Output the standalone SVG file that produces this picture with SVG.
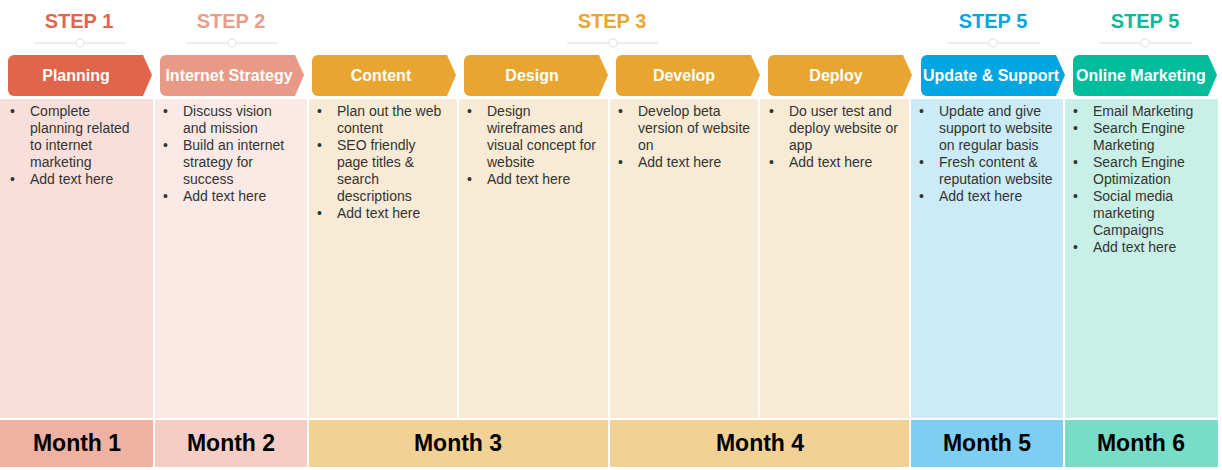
<svg xmlns="http://www.w3.org/2000/svg" width="1222" height="470" viewBox="0 0 1222 470">
<style>
.step{font:bold 20px "Liberation Sans",Arial,sans-serif;text-anchor:middle}
.tab{font:bold 16px "Liberation Sans",Arial,sans-serif;fill:#fff;text-anchor:middle}
.b{font:14px "Liberation Sans",Arial,sans-serif;fill:#333}
.m{font:bold 23px "Liberation Sans",Arial,sans-serif;fill:#000;text-anchor:middle}
.ln{stroke:#e8e8e8;stroke-width:1.5;fill:none}
.dot{fill:#fff;stroke:#e8e8e8;stroke-width:1.5}
</style>
<rect width="1222" height="470" fill="#fff"/>
<g id="steps">
<text class="step" x="79" y="28" fill="#E0654A">STEP 1</text>
<text class="step" x="231" y="28" fill="#EA9C88">STEP 2</text>
<text class="step" x="612" y="28" fill="#E8A631">STEP 3</text>
<text class="step" x="993" y="28" fill="#0AA5E0">STEP 5</text>
<text class="step" x="1145" y="28" fill="#10B894">STEP 5</text>
<path class="ln" d="M34 43H126M186 43H278M567 43H659M948 43H1040M1100 43H1192"/>
<circle class="dot" cx="80" cy="43" r="4"/><circle class="dot" cx="232" cy="43" r="4"/><circle class="dot" cx="613" cy="43" r="4"/><circle class="dot" cx="993" cy="43" r="4"/><circle class="dot" cx="1145" cy="43" r="4"/>
</g>
<g id="col-planning">
<rect x="0" y="99" width="153" height="319" fill="#F9DFD9"/>
<path d="M14 55H143L152 75L143 96H14A6 6 0 0 1 8 90V61A6 6 0 0 1 14 55Z" fill="#E0654A"/>
<text class="tab" x="76" y="81">Planning</text>
<text class="b"><tspan x="10" y="116">•</tspan><tspan x="30" y="116">Complete</tspan><tspan x="30" y="133">planning related</tspan><tspan x="30" y="150">to internet</tspan><tspan x="30" y="167">marketing</tspan><tspan x="10" y="184">•</tspan><tspan x="30" y="184">Add text here</tspan></text>
</g>
<g id="col-strategy">
<rect x="155" y="99" width="152" height="319" fill="#FBE9E5"/>
<path d="M166 55H295L304 75L295 96H166A6 6 0 0 1 160 90V61A6 6 0 0 1 166 55Z" fill="#E89A87"/>
<text class="tab" x="229" y="81">Internet Strategy</text>
<text class="b"><tspan x="163" y="116">•</tspan><tspan x="183" y="116">Discuss vision</tspan><tspan x="183" y="133">and mission</tspan><tspan x="163" y="150">•</tspan><tspan x="183" y="150">Build an internet</tspan><tspan x="183" y="167">strategy for</tspan><tspan x="183" y="184">success</tspan><tspan x="163" y="201">•</tspan><tspan x="183" y="201">Add text here</tspan></text>
</g>
<g id="col-content">
<rect x="309" y="99" width="148" height="319" fill="#F8EBD5"/>
<path d="M318 55H447L456 75L447 96H318A6 6 0 0 1 312 90V61A6 6 0 0 1 318 55Z" fill="#E8A631"/>
<text class="tab" x="381" y="81">Content</text>
<text class="b"><tspan x="317" y="116">•</tspan><tspan x="337" y="116">Plan out the web</tspan><tspan x="337" y="133">content</tspan><tspan x="317" y="150">•</tspan><tspan x="337" y="150">SEO friendly</tspan><tspan x="337" y="167">page titles &amp;</tspan><tspan x="337" y="184">search</tspan><tspan x="337" y="201">descriptions</tspan><tspan x="317" y="218">•</tspan><tspan x="337" y="218">Add text here</tspan></text>
</g>
<g id="col-design">
<rect x="459" y="99" width="149" height="319" fill="#F8EBD5"/>
<path d="M470 55H599L608 75L599 96H470A6 6 0 0 1 464 90V61A6 6 0 0 1 470 55Z" fill="#E8A631"/>
<text class="tab" x="532" y="81">Design</text>
<text class="b"><tspan x="467" y="116">•</tspan><tspan x="487" y="116">Design</tspan><tspan x="487" y="133">wireframes and</tspan><tspan x="487" y="150">visual concept for</tspan><tspan x="487" y="167">website</tspan><tspan x="467" y="184">•</tspan><tspan x="487" y="184">Add text here</tspan></text>
</g>
<g id="col-develop">
<rect x="610" y="99" width="148" height="319" fill="#F8EBD5"/>
<path d="M622 55H751L760 75L751 96H622A6 6 0 0 1 616 90V61A6 6 0 0 1 622 55Z" fill="#E8A631"/>
<text class="tab" x="684" y="81">Develop</text>
<text class="b"><tspan x="618" y="116">•</tspan><tspan x="638" y="116">Develop beta</tspan><tspan x="638" y="133">version of website</tspan><tspan x="638" y="150">on</tspan><tspan x="618" y="167">•</tspan><tspan x="638" y="167">Add text here</tspan></text>
</g>
<g id="col-deploy">
<rect x="760" y="99" width="149" height="319" fill="#F8EBD5"/>
<path d="M774 55H903L912 75L903 96H774A6 6 0 0 1 768 90V61A6 6 0 0 1 774 55Z" fill="#E8A631"/>
<text class="tab" x="836" y="81">Deploy</text>
<text class="b"><tspan x="769" y="116">•</tspan><tspan x="789" y="116">Do user test and</tspan><tspan x="789" y="133">deploy website or</tspan><tspan x="789" y="150">app</tspan><tspan x="769" y="167">•</tspan><tspan x="789" y="167">Add text here</tspan></text>
</g>
<g id="col-update">
<rect x="911" y="99" width="152" height="319" fill="#CBEBF6"/>
<path d="M927 55H1056L1065 75L1056 96H927A6 6 0 0 1 921 90V61A6 6 0 0 1 927 55Z" fill="#00A6E2"/>
<text class="tab" x="991" y="81">Update &amp; Support</text>
<text class="b"><tspan x="919" y="116">•</tspan><tspan x="939" y="116">Update and give</tspan><tspan x="939" y="133">support to website</tspan><tspan x="939" y="150">on regular basis</tspan><tspan x="919" y="167">•</tspan><tspan x="939" y="167">Fresh content &amp;</tspan><tspan x="939" y="184">reputation website</tspan><tspan x="919" y="201">•</tspan><tspan x="939" y="201">Add text here</tspan></text>
</g>
<g id="col-marketing">
<rect x="1065" y="99" width="153" height="319" fill="#C9F0E6"/>
<path d="M1079 55H1208L1217 75L1208 96H1079A6 6 0 0 1 1073 90V61A6 6 0 0 1 1079 55Z" fill="#00BC9B"/>
<text class="tab" x="1141" y="81">Online Marketing</text>
<text class="b"><tspan x="1073" y="116">•</tspan><tspan x="1093" y="116">Email Marketing</tspan><tspan x="1073" y="133">•</tspan><tspan x="1093" y="133">Search Engine</tspan><tspan x="1093" y="150">Marketing</tspan><tspan x="1073" y="167">•</tspan><tspan x="1093" y="167">Search Engine</tspan><tspan x="1093" y="184">Optimization</tspan><tspan x="1073" y="201">•</tspan><tspan x="1093" y="201">Social media</tspan><tspan x="1093" y="218">marketing</tspan><tspan x="1093" y="235">Campaigns</tspan><tspan x="1073" y="252">•</tspan><tspan x="1093" y="252">Add text here</tspan></text>
</g>
<g id="months">
<rect x="0" y="420" width="153" height="47" fill="#EFB1A2"/><text class="m" x="77" y="451">Month 1</text>
<rect x="155" y="420" width="152" height="47" fill="#F4CEC4"/><text class="m" x="231" y="451">Month 2</text>
<rect x="309" y="420" width="299" height="47" fill="#F1D196"/><text class="m" x="458" y="451">Month 3</text>
<rect x="610" y="420" width="299" height="47" fill="#F1D196"/><text class="m" x="760" y="451">Month 4</text>
<rect x="911" y="420" width="152" height="47" fill="#7DCEF0"/><text class="m" x="987" y="451">Month 5</text>
<rect x="1065" y="420" width="153" height="47" fill="#79DCC6"/><text class="m" x="1141" y="451">Month 6</text>
</g>
<g id="connectors"></g>
</svg>
